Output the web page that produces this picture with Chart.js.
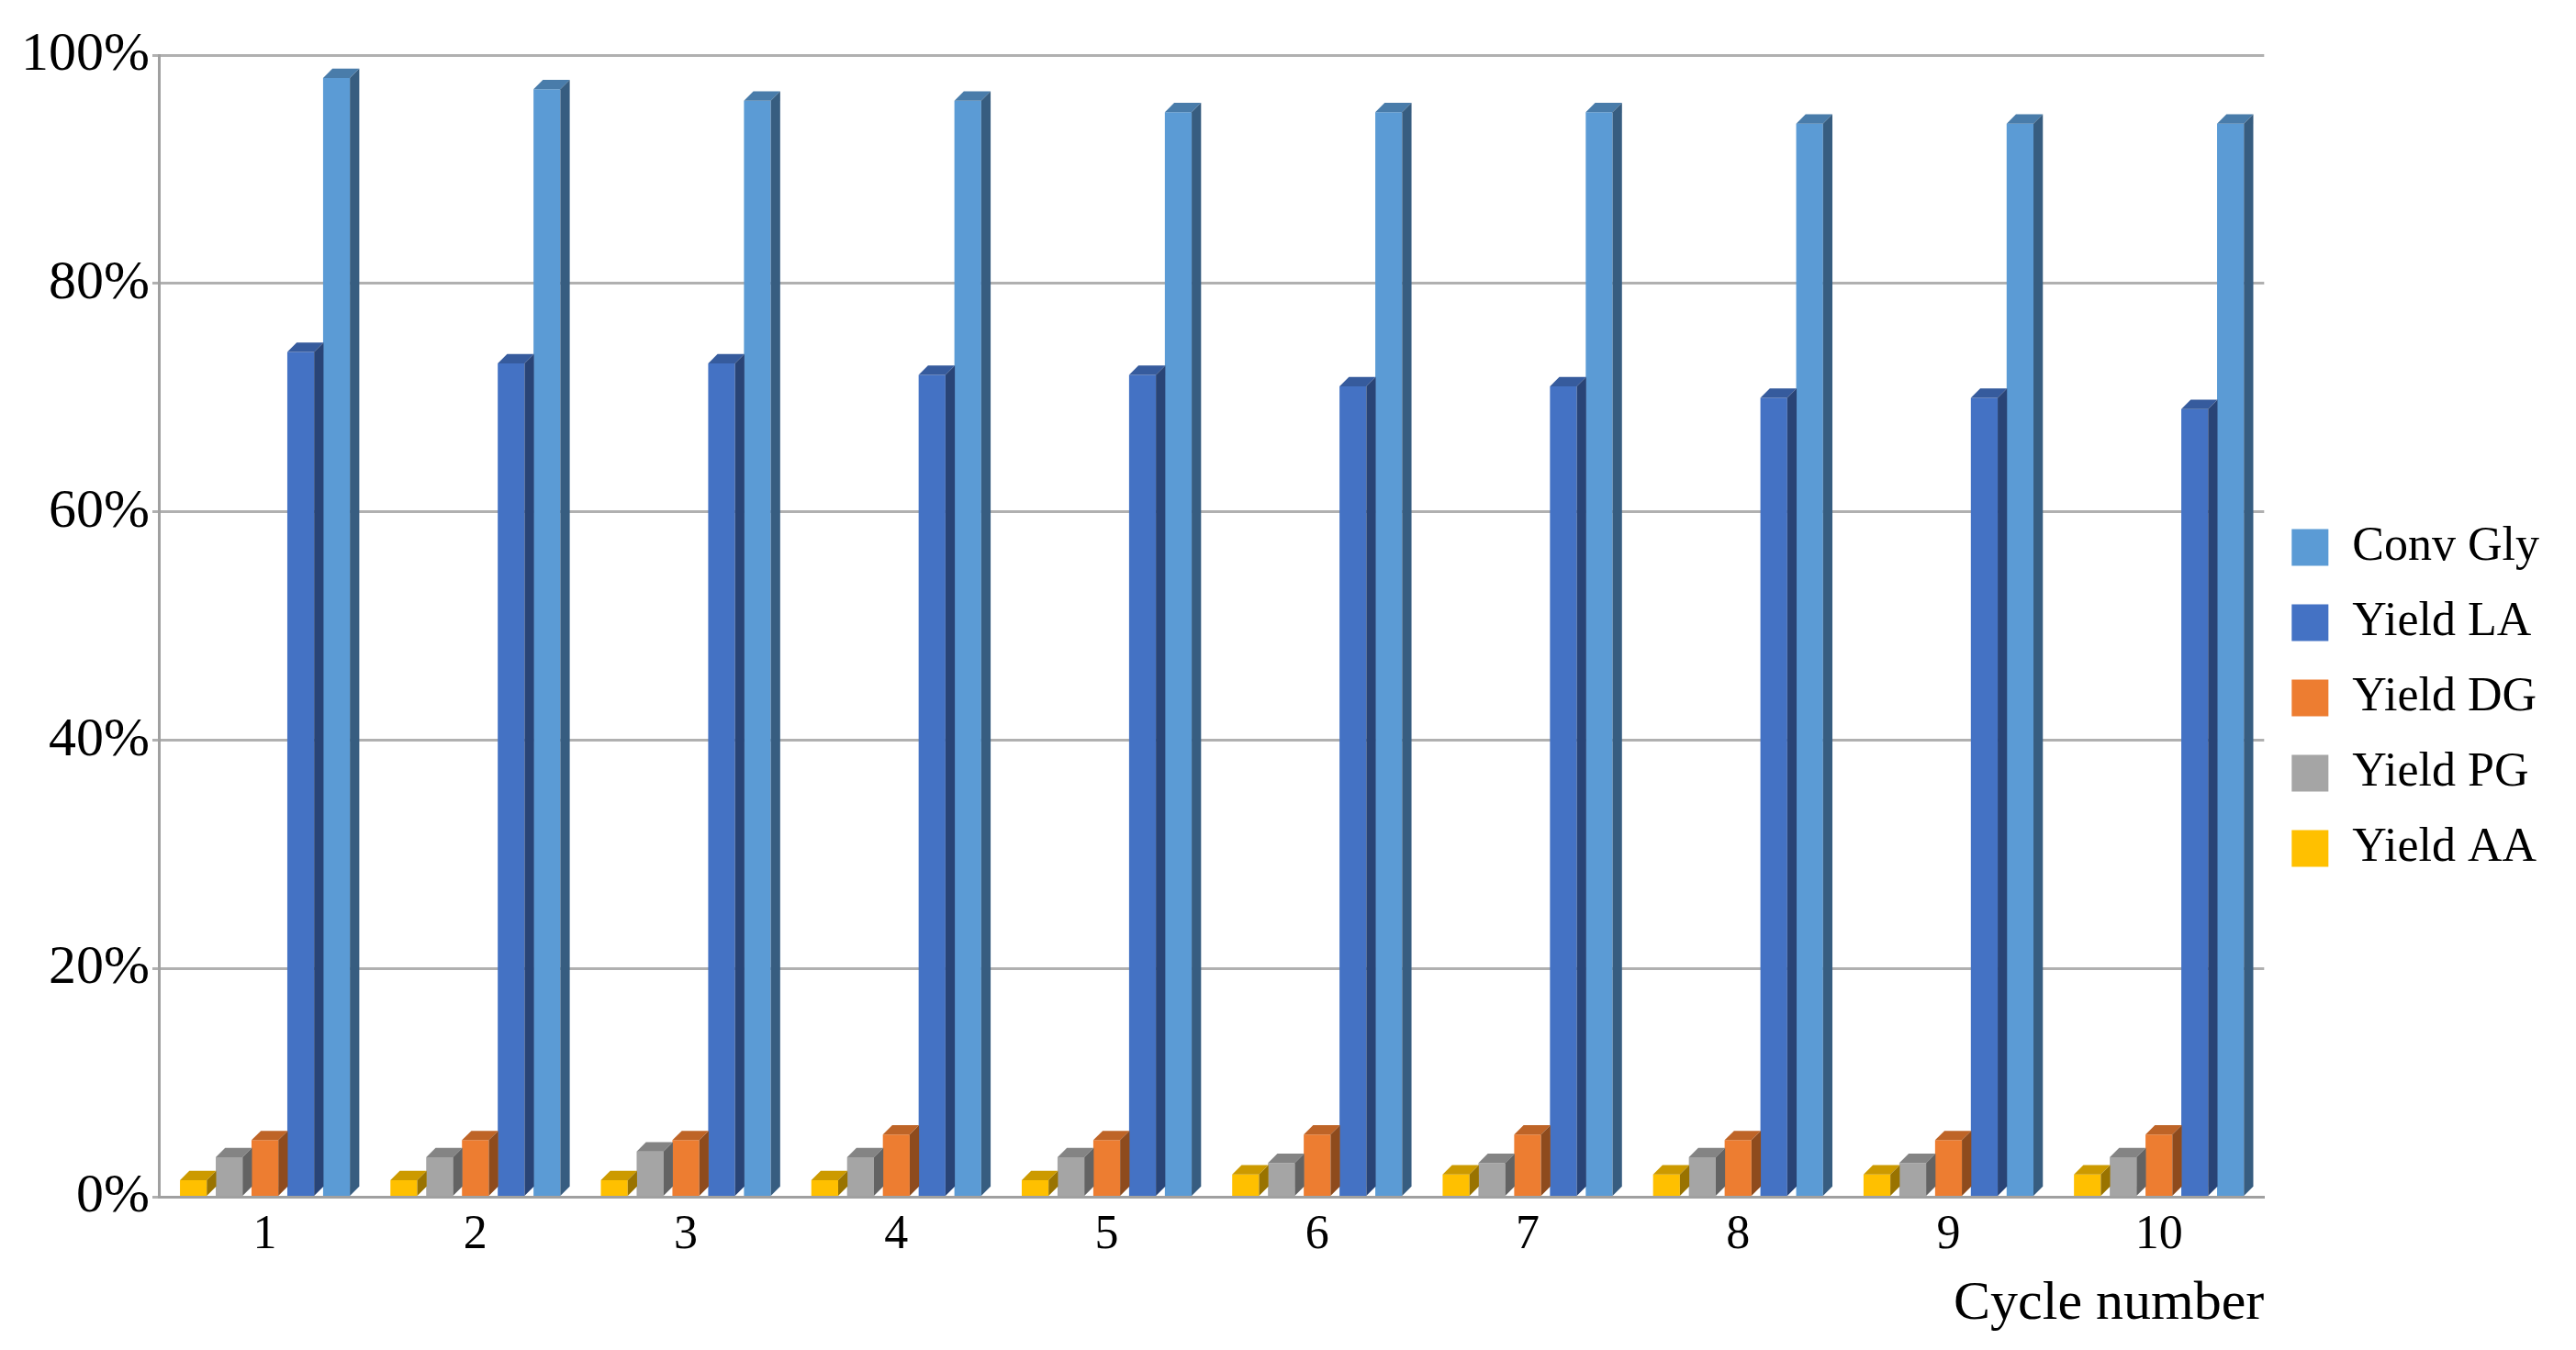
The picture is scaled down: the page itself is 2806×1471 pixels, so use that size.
<!DOCTYPE html>
<html>
<head>
<meta charset="utf-8">
<script src="https://cdn.jsdelivr.net/npm/chart.js@4.4.1/dist/chart.umd.min.js"></script>
<style>
  html, body { margin: 0; padding: 0; background: #fff; }
  #wrap { width: 2806px; height: 1471px; }
</style>
</head>
<body>
<div id="wrap"><canvas id="chart"></canvas></div>
<script>
const cycles = ['1', '2', '3', '4', '5', '6', '7', '8', '9', '10'];
const yieldAA = [1.5, 1.5, 1.5, 1.5, 1.5, 2, 2, 2, 2, 2];
const yieldPG = [3.5, 3.5, 4, 3.5, 3.5, 3, 3, 3.5, 3, 3.5];
const yieldDG = [5, 5, 5, 5.5, 5, 5.5, 5.5, 5, 5, 5.5];
const yieldLA = [74, 73, 73, 72, 72, 71, 71, 70, 70, 69];
const convGly = [98, 97, 96, 96, 95, 95, 95, 94, 94, 94];

const seriesColors = ['#FFC000', '#A5A5A5', '#ED7D31', '#4472C4', '#5B9BD5'];

function shade(hex, f) {
  const n = parseInt(hex.slice(1), 16);
  const r = Math.round(((n >> 16) & 255) * f);
  const g = Math.round(((n >> 8) & 255) * f);
  const b = Math.round((n & 255) * f);
  return `rgb(${r},${g},${b})`;
}

// draws a top and side face on each bar so it reads like the 3D original
const depthPlugin = {
  id: 'depth',
  afterDatasetsDraw(chart) {
    const ctx = chart.ctx;
    chart.data.datasets.forEach((ds, i) => {
      const meta = chart.getDatasetMeta(i);
      meta.data.forEach(bar => {
        const w = bar.width;
        const d = w * 0.35;
        const left = bar.x - w / 2, right = bar.x + w / 2;
        ctx.save();
        ctx.fillStyle = shade(ds.backgroundColor, 0.8);
        ctx.beginPath();
        ctx.moveTo(left, bar.y);
        ctx.lineTo(left + d, bar.y - d);
        ctx.lineTo(right + d, bar.y - d);
        ctx.lineTo(right, bar.y);
        ctx.closePath();
        ctx.fill();
        ctx.fillStyle = shade(ds.backgroundColor, 0.6);
        ctx.beginPath();
        ctx.moveTo(right, bar.y);
        ctx.lineTo(right + d, bar.y - d);
        ctx.lineTo(right + d, bar.base - d);
        ctx.lineTo(right, bar.base);
        ctx.closePath();
        ctx.fill();
        ctx.restore();
      });
    });
  }
};

const font = { family: '"Liberation Serif", "DejaVu Serif", serif', size: 52 };

new Chart(document.getElementById('chart'), {
  type: 'bar',
  data: {
    labels: cycles,
    datasets: [
      { label: 'Yield AA', data: yieldAA, backgroundColor: seriesColors[0] },
      { label: 'Yield PG', data: yieldPG, backgroundColor: seriesColors[1] },
      { label: 'Yield DG', data: yieldDG, backgroundColor: seriesColors[2] },
      { label: 'Yield LA', data: yieldLA, backgroundColor: seriesColors[3] },
      { label: 'Conv Gly', data: convGly, backgroundColor: seriesColors[4] }
    ]
  },
  options: {
    responsive: true,
    maintainAspectRatio: false,
    animation: false,
    devicePixelRatio: 1,
    layout: { padding: { top: 60, right: 30, left: 20, bottom: 10 } },
    datasets: { bar: { categoryPercentage: 0.85, barPercentage: 0.75 } },
    plugins: {
      legend: {
        position: 'right',
        reverse: true,
        labels: { font: font, color: '#000', boxWidth: 40, boxHeight: 40, padding: 30 }
      },
      tooltip: { enabled: false }
    },
    scales: {
      x: {
        grid: { display: false },
        border: { color: '#A0A0A0', width: 3 },
        ticks: { font: font, color: '#000' },
        title: { display: true, text: 'Cycle number', align: 'end', font: { ...font, size: 60 }, color: '#000' }
      },
      y: {
        min: 0,
        max: 100,
        ticks: { stepSize: 20, font: { ...font, size: 60 }, color: '#000', callback: v => v + '%' },
        grid: { color: '#B0B0B0', lineWidth: 3 },
        border: { color: '#A0A0A0', width: 3 }
      }
    }
  },
  plugins: [depthPlugin]
});
</script>
</body>
</html>
